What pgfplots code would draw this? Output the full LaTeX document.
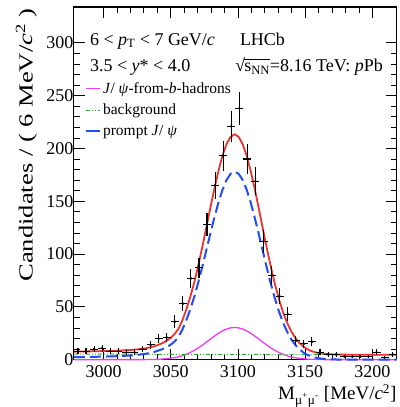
\documentclass[border=0pt]{standalone}
\usepackage{fontspec}
\setmainfont{Liberation Serif}
\usepackage{pgfplots}
\usepackage{pgfplotstable}
\pgfplotsset{compat=1.18}

\definecolor{fitred}{RGB}{238,50,45}
\definecolor{fitblue}{RGB}{35,75,250}
\definecolor{fitmag}{RGB}{240,60,240}
\definecolor{fitgreen}{RGB}{50,165,50}

\pgfplotsset{
  shortleg/.style={legend image code/.code={\draw[##1] (0pt,0pt) -- (14pt,0pt);}},
  shortlegsolid/.style={legend image code/.code={\draw[##1, solid] (0pt,0pt) -- (14pt,0pt);}},
}

\pgfplotstableread{
x y ex ey
2981 8 3 2.83
2987 8 3 2.83
2993 10 3 3.16
2999 11 3 3.32
3005 8 3 2.83
3011 8 3 2.83
3017 7 3 2.65
3023 7 3 2.65
3029 10 3 3.16
3035 14 3 3.74
3041 20 3 4.47
3047 21 3 4.58
3053 36 3 6.00
3059 53 3 7.28
3065 77 3 8.77
3071 87 3 9.33
3077 128 3 11.31
3083 165 3 12.85
3089 193 3 13.89
3095 221 3 14.87
3101 238 3 15.43
3107 190 3 13.78
3113 169 3 13.00
3119 112 3 10.58
3125 80 3 8.94
3131 60 3 7.75
3137 43 3 6.56
3143 18 3 4.24
3149 15 3 3.87
3155 17 3 4.12
3161 7 3 2.65
3167 5 3 2.24
3173 5 3 2.24
3179 3 3 1.73
3185 3 3 1.73
3191 3 3 1.73
3197 3 3 1.73
3203 7 3 2.65
3209 2 3 1.41
3215 5 3 2.24
}\datatab

\pgfplotstableread{
x y
2978 2.3
2990 2.6
3000 2.9
3010 3.3
3019.5 3.9
3025.5 4.6
3031.5 5.6
3037.5 7.2
3043.5 9.8
3046.5 11.6
3049.5 13.8
3052.5 16.8
3055.5 21.0
3058.5 28
3061.5 37
3064.5 47.5
3067.5 59.5
3070.5 73.2
3073.5 88.2
3076.5 103.8
3079.5 119.6
3082.5 134.8
3085.5 148.9
3088.5 160.9
3091.5 170.2
3094.5 176
3097.5 178
3100.5 176
3103.5 170.2
3106.5 160.9
3109.5 148.7
3112.5 134.4
3115.5 118.7
3118.5 102.6
3121.5 86.7
3124.5 71.6
3127.5 57.8
3130.5 45.6
3133.5 35.2
3136.5 26.6
3139.5 19.6
3142.5 14.2
3145.5 10.0
3148.5 6.9
3151.5 4.65
3154.5 3.07
3157.5 1.98
3160.5 1.25
3163.5 0.77
3166.5 0.46
3169.5 0.27
3175 0.1
3185 0.02
3218 0
}\bluetab

\pgfplotstableread{
x y
2978 0
3030 0.04
3037.5 0.21
3043.5 0.54
3049.5 1.25
3052.5 1.85
3055.5 2.65
3058.5 3.71
3061.5 5.07
3064.5 6.75
3067.5 8.77
3070.5 11.1
3073.5 13.7
3076.5 16.6
3079.5 19.5
3082.5 22.3
3085.5 25.0
3088.5 27.3
3091.5 29.0
3094.5 30.1
3097.5 30.5
3100.5 30.1
3103.5 29.0
3106.5 27.3
3109.5 25.0
3112.5 22.3
3115.5 19.5
3118.5 16.6
3121.5 13.7
3124.5 11.1
3127.5 8.77
3130.5 6.75
3133.5 5.07
3136.5 3.71
3139.5 2.65
3142.5 1.85
3145.5 1.25
3151.5 0.54
3157.5 0.21
3165 0.04
3218 0
}\magtab

\pgfplotstableread{
x y
2978 5.3
3218 4.6
}\bkgtab

\pgfplotstableread{
x y
2978 7.60
2990 7.87
3000 8.14
3010 8.51
3019.5 9.08
3025.5 9.78
3031.5 10.79
3037.5 12.54
3043.5 15.45
3046.5 17.55
3049.5 20.14
3052.5 23.73
3055.5 28.72
3058.5 36.77
3061.5 47.13
3064.5 59.30
3067.5 73.31
3070.5 89.33
3073.5 106.92
3076.5 125.41
3079.5 144.10
3082.5 162.09
3085.5 178.88
3088.5 193.17
3091.5 204.16
3094.5 211.06
3097.5 213.45
3100.5 211.04
3103.5 204.13
3106.5 193.12
3109.5 178.61
3112.5 161.60
3115.5 143.09
3118.5 124.08
3121.5 105.27
3124.5 87.57
3127.5 71.43
3130.5 57.20
3133.5 45.11
3136.5 35.14
3139.5 27.07
3142.5 20.86
3145.5 16.05
3148.5 12.53
3151.5 9.98
3154.5 8.19
3157.5 6.96
3160.5 6.13
3163.5 5.59
3166.5 5.24
3169.5 5.02
3175 4.81
3185 4.70
3200 4.64
3218 4.60
}\redtab

\begin{document}
\begin{tikzpicture}
\begin{axis}[
  width=323pt, height=353pt, scale only axis,
  xmin=2978, xmax=3218, ymin=0, ymax=334,
  clip=false,
  xtick={3000,3050,3100,3150,3200},
  ytick={0,50,100,150,200,250,300},
  minor x tick num=4, minor y tick num=4,
  tick align=inside, tick pos=both,
  major tick length=11pt, minor tick length=6pt,
  every tick/.style={black, line width=0.8pt},
  axis line style={line width=1.1pt},
  ticklabel style={font=\fontsize{18}{21}\selectfont},
  yticklabel style={xshift=3pt},
  xticklabel style={yshift=-2pt},
  /pgf/number format/assume math mode=true,
  /pgf/number format/1000 sep={},
  scaled ticks=false,
  xlabel={M\textsubscript{μ\textsuperscript{+}μ\textsuperscript{-}} [MeV/\textit{c}\textsuperscript{2}]},
  xlabel style={font=\fontsize{19}{22}\selectfont, at={(rel axis cs:1,0)}, anchor=base east, yshift=-40pt, inner sep=0pt},
  ylabel={\scalebox{1.33}[1]{Candidates / ( 6 MeV/\textit{c}\textsuperscript{2} )}},
  ylabel style={font=\fontsize{20}{23}\selectfont, at={(ticklabel cs:0.997,6pt)}, anchor=south east, inner sep=0pt},
  legend style={draw=none, fill=none, at={(rel axis cs:0.034,0.792)}, anchor=north west,
    font=\fontsize{15.5}{18}\selectfont, row sep=5pt, inner sep=0pt},
  legend cell align=left,
]
\path (rel axis cs:-0.2291,-0.1331) rectangle (rel axis cs:1.0062,1.0198);

\addplot[fitmag, line width=1.3pt, shortleg] table[x=x,y=y] {\magtab};
\addlegendentry{\textit{J}/ \textit{ψ}-from-\textit{b}-hadrons}
\addplot[fitgreen, line width=1pt, dash pattern=on 4pt off 2pt on 1pt off 2pt on 1pt off 2pt, shortleg] table[x=x,y=y] {\bkgtab};
\addlegendentry{background}
\addplot[fitblue, line width=2pt, dash pattern=on 11pt off 5pt, shortlegsolid] table[x=x,y=y] {\bluetab};
\addlegendentry{prompt \textit{J}/ \textit{ψ}}
\addplot[fitred, line width=1.8pt, forget plot] table[x=x,y=y] {\redtab};

\addplot[black, only marks, mark=*, mark size=1.1pt, forget plot,
  error bars/.cd, x dir=both, x explicit, y dir=both, y explicit,
  error mark=none, error bar style={line width=1.1pt, black}]
  table[x=x, y=y, x error=ex, y error=ey] {\datatab};

\node[anchor=base west, inner sep=0pt, font=\fontsize{18}{21}\selectfont] at (rel axis cs:0.0495,0.892) {6 < \textit{p}\textsubscript{T} < 7 GeV/\textit{c}};
\node[anchor=base west, inner sep=0pt, font=\fontsize{18}{21}\selectfont] at (rel axis cs:0.514,0.892) {LHCb};
\node[anchor=base west, inner sep=0pt, font=\fontsize{18}{21}\selectfont] at (rel axis cs:0.0495,0.816) {3.5 < \textit{y}* < 4.0};
\node[anchor=base west, inner sep=0pt, font=\fontsize{18}{21}\selectfont] at (rel axis cs:0.50,0.816) {√\kern-0.06em$\overline{\mbox{\rule{0pt}{0.62em}s\textsubscript{NN}}}$=8.16 TeV: \textit{p}Pb};
\end{axis}
\end{tikzpicture}
\end{document}
